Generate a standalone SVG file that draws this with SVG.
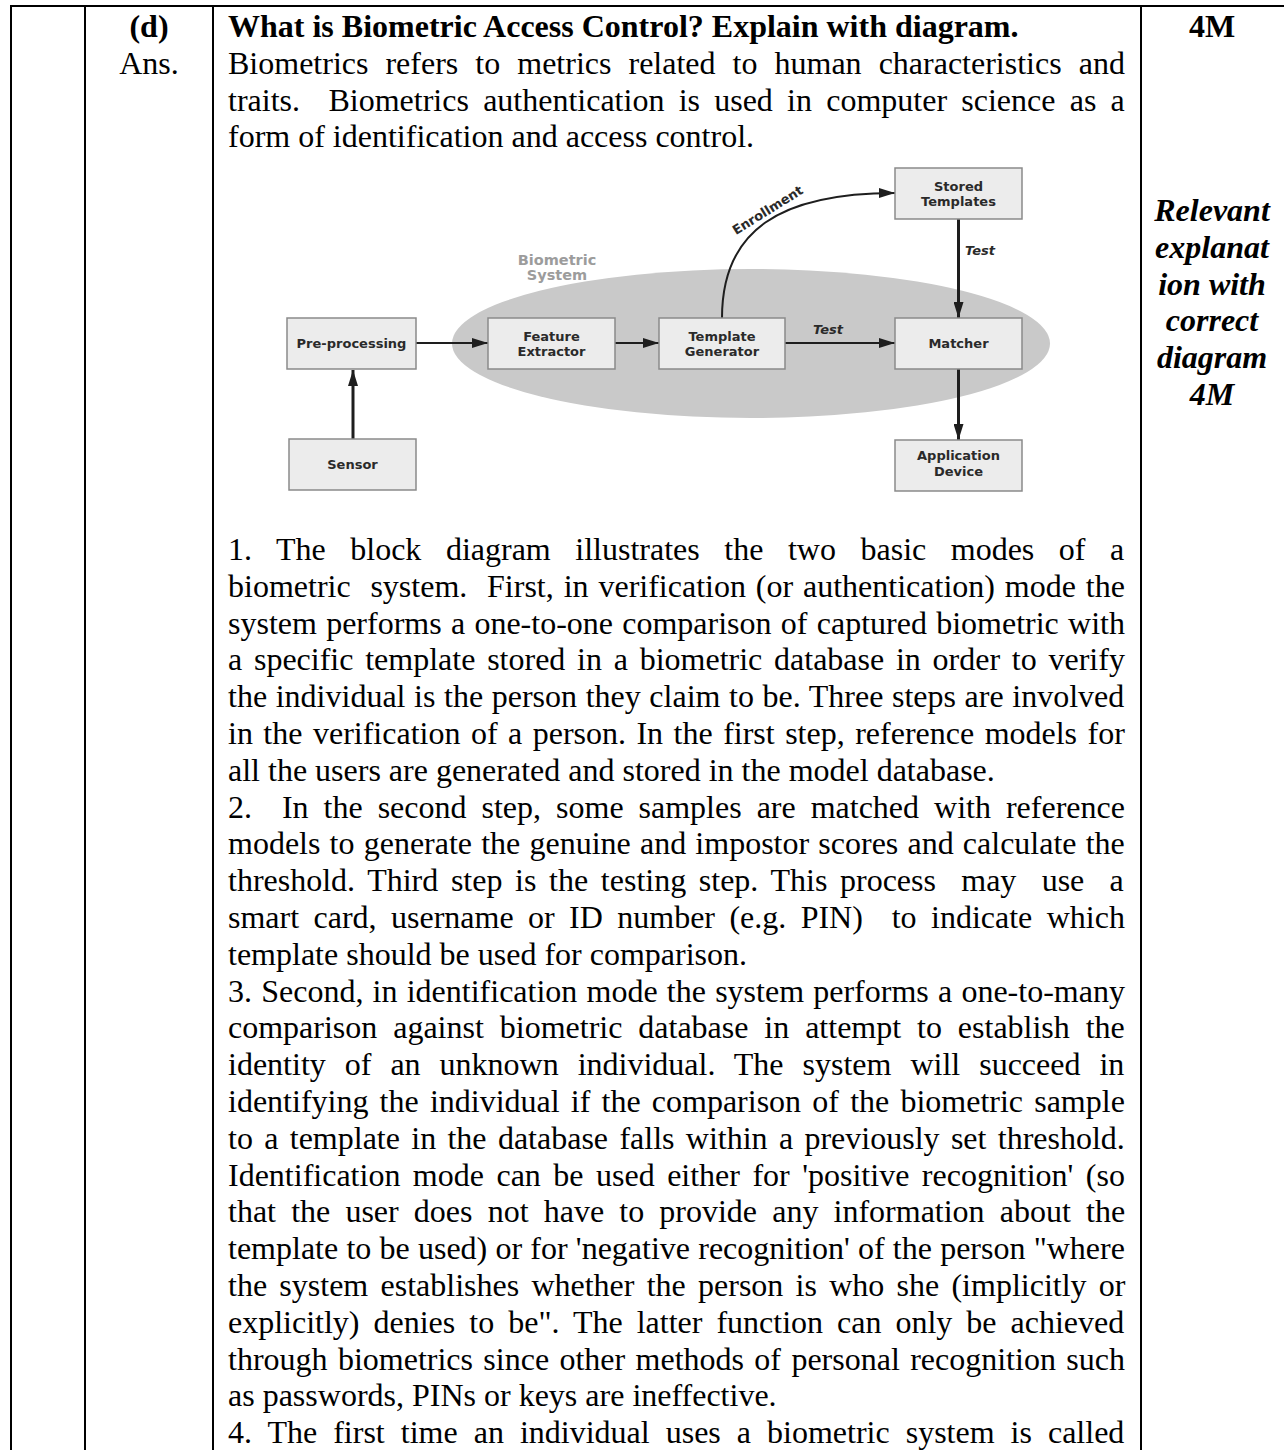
<svg xmlns="http://www.w3.org/2000/svg" width="1284" height="1450" viewBox="0 0 1284 1450">
<style>
.t{font-family:"Liberation Serif","Times New Roman",serif;font-size:32px;fill:#000}
.b{font-weight:bold}
.bi{font-weight:bold;font-style:italic;text-anchor:middle}
.c{text-anchor:middle}
.grid{stroke:#000;stroke-width:2;fill:none}
.box{fill:#ececec;stroke:#8a8a8a;stroke-width:1.5}
.lbl{font-family:"DejaVu Sans",Verdana,sans-serif;font-size:13px;font-weight:bold;fill:#2a2a2a;text-anchor:middle}
.lt{font-family:"DejaVu Sans",Verdana,sans-serif;font-size:13px;font-weight:bold;font-style:italic;fill:#2a2a2a}
.sys{font-family:"DejaVu Sans",Verdana,sans-serif;font-size:14.5px;font-weight:bold;fill:#9c9c9c;text-anchor:middle}
.ar{stroke:#1e1e1e;stroke-width:2;fill:none}
.arv{stroke:#1e1e1e;stroke-width:3;fill:none}
</style>
<defs>
<marker id="ah" markerUnits="userSpaceOnUse" markerWidth="16" markerHeight="10" refX="16" refY="5" orient="auto">
<path d="M0,0 L16,5 L0,10 z" fill="#1e1e1e"/>
</marker>
</defs>
<g id="table">
<line class="grid" x1="10" y1="6" x2="1284" y2="6"/>
<line class="grid" x1="11" y1="6" x2="11" y2="1450"/>
<line class="grid" x1="85" y1="6" x2="85" y2="1450"/>
<line class="grid" x1="213" y1="6" x2="213" y2="1450"/>
<line class="grid" x1="1141" y1="6" x2="1141" y2="1450"/>
</g>
<g id="left-col">
<text class="t b c" x="149" y="37">(d)</text>
<text class="t c" x="149" y="73.8">Ans.</text>
</g>
<g id="marks">
<text class="t b c" x="1212" y="37">4M</text>
<text class="t bi" x="1212" y="221">Relevant</text>
<text class="t bi" x="1212" y="257.8">explanat</text>
<text class="t bi" x="1212" y="294.6">ion with</text>
<text class="t bi" x="1212" y="331.4">correct</text>
<text class="t bi" x="1212" y="368.2">diagram</text>
<text class="t bi" x="1212" y="405">4M</text>
</g>
<g id="question">
<text class="t b" x="228" y="37">What is Biometric Access Control? Explain with diagram.</text>
<text class="t" x="228" y="73.8" style="word-spacing:9.04px">Biometrics refers to metrics related to human characteristics and</text>
<text class="t" x="228" y="110.6" xml:space="preserve" style="word-spacing:6.24px">traits.  Biometrics authentication is used in computer science as a</text>
<text class="t" x="228" y="147.4">form of identification and access control.</text>
</g>
<g id="diagram">
<ellipse id="biometric-system" cx="751" cy="343.5" rx="299" ry="74.5" fill="#c9c9c9"/>
<text class="sys" x="557" y="265">Biometric</text>
<text class="sys" x="557" y="280">System</text>
<g id="connectors">
<line class="arv" x1="353" y1="439" x2="353" y2="370" marker-end="url(#ah)"/>
<line class="ar" x1="416" y1="343" x2="488" y2="343" marker-end="url(#ah)"/>
<line class="ar" x1="615" y1="343" x2="659" y2="343" marker-end="url(#ah)"/>
<line class="ar" x1="785" y1="343" x2="895" y2="343" marker-end="url(#ah)"/>
<line class="arv" x1="958.5" y1="219" x2="958.5" y2="318" marker-end="url(#ah)"/>
<line class="arv" x1="958.5" y1="369" x2="958.5" y2="440" marker-end="url(#ah)"/>
<path class="ar" d="M722,318 C722,230 780,193 895,193" marker-end="url(#ah)"/>
<text class="lbl" x="770" y="214" transform="rotate(-32 770 214)">Enrollment</text>
<text class="lt" x="813" y="334">Test</text>
<text class="lt" x="965" y="255">Test</text>
</g>
<g id="stored-templates">
<rect class="box" x="895" y="168" width="127" height="51"/>
<text class="lbl" x="958.5" y="191">Stored</text>
<text class="lbl" x="958.5" y="206">Templates</text>
</g>
<g id="pre-processing">
<rect class="box" x="287" y="318" width="129" height="51"/>
<text class="lbl" x="351.5" y="348">Pre-processing</text>
</g>
<g id="feature-extractor">
<rect class="box" x="488" y="318" width="127" height="51"/>
<text class="lbl" x="551.5" y="341">Feature</text>
<text class="lbl" x="551.5" y="356">Extractor</text>
</g>
<g id="template-generator">
<rect class="box" x="659" y="318" width="126" height="51"/>
<text class="lbl" x="722" y="341">Template</text>
<text class="lbl" x="722" y="356">Generator</text>
</g>
<g id="matcher">
<rect class="box" x="895" y="318" width="127" height="51"/>
<text class="lbl" x="958.5" y="348">Matcher</text>
</g>
<g id="sensor">
<rect class="box" x="289" y="439" width="127" height="51"/>
<text class="lbl" x="352.5" y="469">Sensor</text>
</g>
<g id="application-device">
<rect class="box" x="895" y="440" width="127" height="51"/>
<text class="lbl" x="958.5" y="460">Application</text>
<text class="lbl" x="958.5" y="476">Device</text>
</g>
</g>
<g id="answer">
<text class="t" x="228" y="560" style="word-spacing:16.55px">1. The block diagram illustrates the two basic modes of a</text>
<text class="t" x="228" y="596.8" xml:space="preserve" style="word-spacing:1.89px">biometric  system.  First, in verification (or authentication) mode the</text>
<text class="t" x="228" y="633.6" style="word-spacing:1.26px">system performs a one-to-one comparison of captured biometric with</text>
<text class="t" x="228" y="670.4" style="word-spacing:3.75px">a specific template stored in a biometric database in order to verify</text>
<text class="t" x="228" y="707.2" style="word-spacing:0.61px">the individual is the person they claim to be. Three steps are involved</text>
<text class="t" x="228" y="744" style="word-spacing:2.47px">in the verification of a person. In the first step, reference models for</text>
<text class="t" x="228" y="780.8">all the users are generated and stored in the model database.</text>
<text class="t" x="228" y="817.6" xml:space="preserve" style="word-spacing:6.98px">2.  In the second step, some samples are matched with reference</text>
<text class="t" x="228" y="854.4" style="word-spacing:1.18px">models to generate the genuine and impostor scores and calculate the</text>
<text class="t" x="228" y="891.2" xml:space="preserve" style="word-spacing:4.65px">threshold. Third step is the testing step. This process  may  use  a</text>
<text class="t" x="228" y="928" xml:space="preserve" style="word-spacing:6.41px">smart card, username or ID number (e.g. PIN)  to indicate which</text>
<text class="t" x="228" y="964.8">template should be used for comparison.</text>
<text class="t" x="228" y="1001.6" style="word-spacing:1.21px">3. Second, in identification mode the system performs a one-to-many</text>
<text class="t" x="228" y="1038.4" style="word-spacing:7.91px">comparison against biometric database in attempt to establish the</text>
<text class="t" x="228" y="1075.2" style="word-spacing:10.98px">identity of an unknown individual. The system will succeed in</text>
<text class="t" x="228" y="1112" style="word-spacing:3.18px">identifying the individual if the comparison of the biometric sample</text>
<text class="t" x="228" y="1148.8" style="word-spacing:3.33px">to a template in the database falls within a previously set threshold.</text>
<text class="t" x="228" y="1185.6" style="word-spacing:4.48px">Identification mode can be used either for 'positive recognition' (so</text>
<text class="t" x="228" y="1222.4" style="word-spacing:7.15px">that the user does not have to provide any information about the</text>
<text class="t" x="228" y="1259.2" style="word-spacing:0.22px">template to be used) or for 'negative recognition' of the person "where</text>
<text class="t" x="228" y="1296" style="word-spacing:4.25px">the system establishes whether the person is who she (implicitly or</text>
<text class="t" x="228" y="1332.8" style="word-spacing:6.01px">explicitly) denies to be". The latter function can only be achieved</text>
<text class="t" x="228" y="1369.6" style="word-spacing:2.36px">through biometrics since other methods of personal recognition such</text>
<text class="t" x="228" y="1406.4">as passwords, PINs or keys are ineffective.</text>
<text class="t" x="228" y="1443.2" style="word-spacing:8.02px">4. The first time an individual uses a biometric system is called</text>
</g>
</svg>
